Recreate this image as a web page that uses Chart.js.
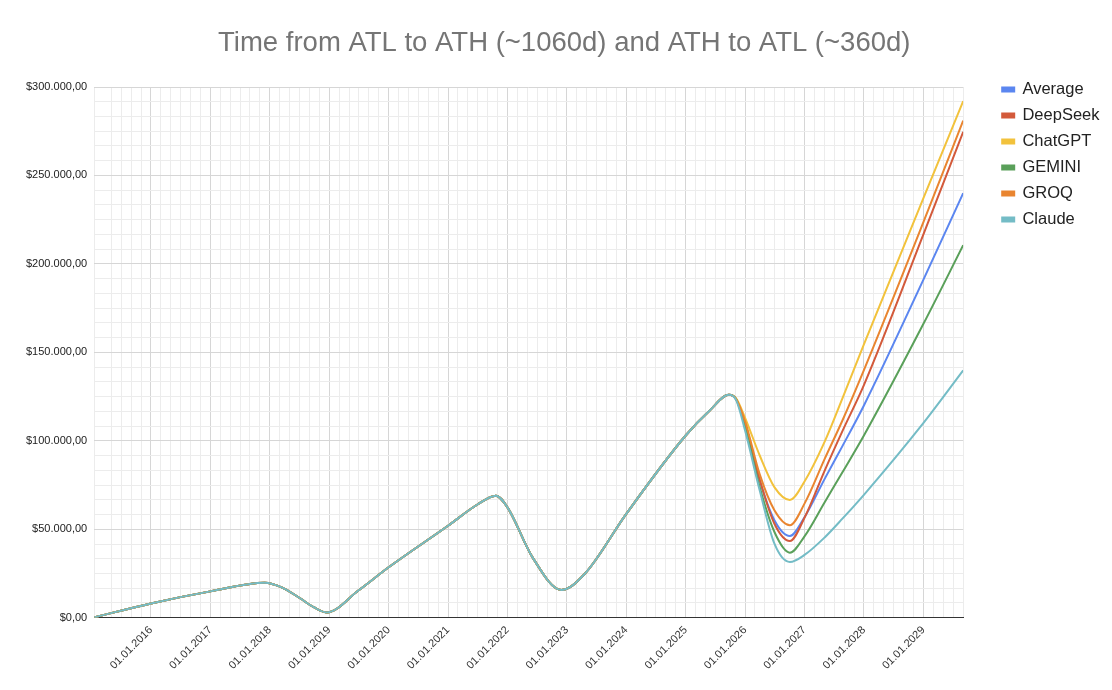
<!DOCTYPE html>
<html lang="en">
<head>
    <meta charset="UTF-8">
    <title>Time from ATL to ATH</title>
    <script src="https://cdn.jsdelivr.net/npm/chart.js"></script>
    <style>
        body {
            margin: 0;
            background: #fff;
            overflow: hidden;
        }
        canvas {
            display: block;
        }
    </style>
</head>
<body>
    <canvas id="myChart" width="1112" height="690"></canvas>

    <script>
        // Dates (ISO), shared by all series
        const dates = [
            "2015-01-17", "2016-01-01", "2017-01-01", "2017-12-01", "2018-03-15",
            "2018-07-01", "2018-10-01", "2018-12-15", "2019-07-01", "2020-01-01",
            "2021-01-01", "2021-07-01", "2021-10-22", "2022-01-01", "2022-06-05",
            "2022-11-28", "2023-04-20", "2024-01-01", "2025-01-01", "2025-05-27",
            "2025-09-24", "2025-11-07", "2026-01-01", "2026-04-01", "2026-07-01",
            "2026-10-03", "2027-01-01", "2027-05-05", "2027-08-22", "2028-01-01",
            "2029-01-01", "2029-09-03"
        ];

        // Shared history up to the 2025 peak (first 21 points)
        const history = [
            200, 8100, 14900, 19800, 17200,
            11300, 5800, 3000, 15500, 28500,
            52000, 64000, 69000, 62400, 34000,
            15700, 24700, 58700, 103000, 117000,
            126000
        ];

        // Projections after the peak, one list per model
        const average  = [123500, 110000, 77500, 55000, 46200, 56800, 78500, 97000, 120000, 191000, 240000];
        const deepseek = [123500, 110000, 78000, 53000, 43400, 56500, 83200, 105500, 131500, 216500, 274700];
        const chatgpt  = [124000, 113000, 91700, 73700, 66600, 77000, 99500, 124000, 154500, 237000, 292000];
        const gemini   = [123500, 108000, 73700, 48300, 36800, 46000, 65300, 82200, 103000, 166000, 210600];
        const groq     = [123500, 111000, 81000, 60600, 52300, 64500, 89800, 111500, 140000, 223500, 281000];
        const claude   = [123000, 105800, 71900, 41700, 31500, 35500, 45400, 56000, 69500, 110000, 139800];

        const seriesNames = ["Average", "DeepSeek", "ChatGPT", "GEMINI", "GROQ", "Claude"];
        const seriesColors = ["#5b86f0", "#d35a3b", "#f2c23c", "#5aa05a", "#e98530", "#74bcc6"];
        const seriesTails = [average, deepseek, chatgpt, gemini, groq, claude];

        const yTickStep = 50000;
        const yMax = 300000;

        // fecha ISO -> año decimal
        function yearFrac(s) {
            const d = new Date(s + "T00:00:00Z");
            const y = d.getUTCFullYear();
            const start = Date.UTC(y, 0, 1);
            const end = Date.UTC(y + 1, 0, 1);
            return y + (d.getTime() - start) / (end - start);
        }

        const xs = dates.map(yearFrac);

        function money(v) {
            const n = Math.round(v).toString().replace(/\B(?=(\d{3})+(?!\d))/g, ".");
            return "$" + n + ",00";
        }

        const isWhole = (v, step) => Math.abs(v / step - Math.round(v / step)) < 1e-6;

        const datasets = seriesNames.map((name, i) => {
            const values = history.concat(seriesTails[i]);
            return {
                label: name,
                data: xs.map((x, j) => ({ x: x, y: values[j] })),
                borderColor: seriesColors[i],
                backgroundColor: seriesColors[i],
                borderWidth: 2,
                pointRadius: 0,
                cubicInterpolationMode: "monotone",
                fill: false,
                // Claude on top, like the original
                order: seriesNames.length - i
            };
        });

        const ctx = document.getElementById("myChart").getContext("2d");

        new Chart(ctx, {
            type: "line",
            data: { datasets: datasets },
            options: {
                responsive: false,
                animation: false,
                layout: {
                    padding: { left: 19, right: 2.5, bottom: 12, top: 0 }
                },
                plugins: {
                    title: {
                        display: true,
                        text: "Time from ATL to ATH (~1060d) and ATH to ATL (~360d)",
                        color: "#757575",
                        font: { family: "Liberation Sans, Arial", size: 27.5, weight: "normal" },
                        padding: { top: 27, bottom: 27 }
                    },
                    legend: {
                        position: "right",
                        align: "start",
                        // empty title only pushes the items down to the plot top
                        title: {
                            display: true,
                            text: "",
                            font: { size: 1 },
                            padding: { top: 70.5, bottom: 0 }
                        },
                        labels: {
                            boxWidth: 12,
                            boxHeight: 4,
                            padding: 9.5,
                            color: "#222",
                            font: { family: "Liberation Sans, Arial", size: 16.5 },
                            sort: (a, b) => a.datasetIndex - b.datasetIndex
                        }
                    },
                    tooltip: { enabled: false }
                },
                scales: {
                    x: {
                        type: "linear",
                        min: xs[0],
                        max: xs[xs.length - 1],
                        grid: {
                            drawTicks: false,
                            color: (c) => isWhole(c.tick.value, 1) ? "#d6d6d6" : "#ececec"
                        },
                        border: { display: true, color: "#333", width: 1 },
                        ticks: {
                            stepSize: 1 / 6,
                            autoSkip: false,
                            maxRotation: 45,
                            minRotation: 45,
                            padding: 6,
                            color: "#333",
                            font: { family: "Liberation Sans, Arial", size: 11 },
                            callback: (v) => isWhole(v, 1) ? "01.01." + Math.round(v) : ""
                        }
                    },
                    y: {
                        min: 0,
                        max: yMax,
                        grid: {
                            drawTicks: false,
                            color: (c) => isWhole(c.tick.value, yTickStep) ? "#d6d6d6" : "#ececec"
                        },
                        border: { display: false },
                        ticks: {
                            stepSize: yTickStep / 6,
                            autoSkip: false,
                            padding: 7,
                            color: "#222",
                            font: { family: "Liberation Sans, Arial", size: 11 },
                            callback: (v) => isWhole(v, yTickStep) ? money(v) : ""
                        }
                    },
                    // empty axis, just keeps a gap between plot and legend
                    gap: {
                        axis: "y",
                        position: "right",
                        grid: { display: false },
                        border: { display: false },
                        ticks: { callback: () => "" },
                        afterFit: (scale) => { scale.width = 29.5; }
                    }
                }
            }
        });
    </script>
</body>
</html>
